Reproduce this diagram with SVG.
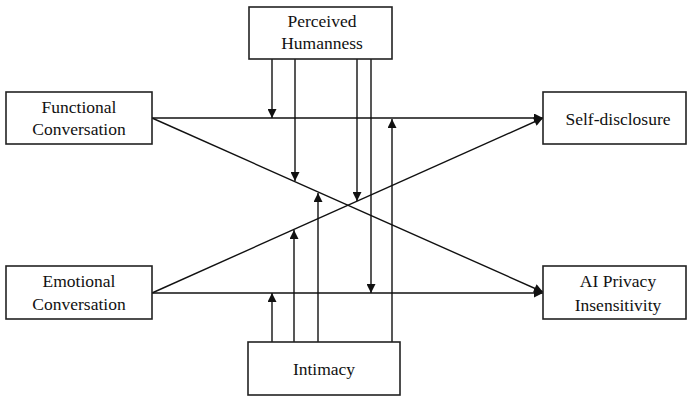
<svg xmlns="http://www.w3.org/2000/svg" width="687" height="397" viewBox="0 0 687 397">
<style>
.box{fill:#fff;stroke:#222;stroke-width:1.6}
.lbl{font-family:'Liberation Serif','Times New Roman',Times,'DejaVu Serif',serif;font-size:17.5px;fill:#111;text-anchor:middle}
.ln{stroke:#111;stroke-width:1.4;fill:none}
.ar{marker-end:url(#ah)}
</style>
<defs>
<marker id="ah" viewBox="0 0 10 10" refX="10" refY="5" markerWidth="10" markerHeight="9" markerUnits="userSpaceOnUse" orient="auto">
<path d="M0,0 L10,5 L0,10 z" fill="#111"/>
</marker>
</defs>
<rect width="687" height="397" fill="#fff"/>
<g id="connectors">
<line class="ln ar" x1="152" y1="118" x2="543" y2="118"/>
<line class="ln ar" x1="152" y1="118" x2="543" y2="292"/>
<line class="ln ar" x1="152" y1="293" x2="543" y2="293"/>
<line class="ln ar" x1="152" y1="293" x2="543" y2="118"/>
<line class="ln ar" x1="272" y1="59" x2="272" y2="118"/>
<line class="ln ar" x1="295" y1="59" x2="295" y2="181"/>
<line class="ln ar" x1="357" y1="59" x2="357" y2="201"/>
<line class="ln ar" x1="371" y1="59" x2="371" y2="293"/>
<line class="ln ar" x1="272" y1="342" x2="272" y2="293"/>
<line class="ln ar" x1="294" y1="342" x2="294" y2="230"/>
<line class="ln ar" x1="318" y1="342" x2="318" y2="193"/>
<line class="ln ar" x1="392" y1="342" x2="392" y2="119"/>
</g>
<g id="perceived-humanness">
<rect class="box" x="249" y="7" width="143" height="52"/>
<text class="lbl" x="322" y="27">Perceived</text>
<text class="lbl" x="322" y="49">Humanness</text>
</g>
<g id="functional-conversation">
<rect class="box" x="6" y="92" width="146" height="52"/>
<text class="lbl" x="79" y="113">Functional</text>
<text class="lbl" x="79" y="135">Conversation</text>
</g>
<g id="emotional-conversation">
<rect class="box" x="6" y="266" width="146" height="53"/>
<text class="lbl" x="79" y="287">Emotional</text>
<text class="lbl" x="79" y="310">Conversation</text>
</g>
<g id="self-disclosure">
<rect class="box" x="543" y="92" width="143" height="52"/>
<text class="lbl" x="618" y="125">Self-disclosure</text>
</g>
<g id="ai-privacy-insensitivity">
<rect class="box" x="543" y="266" width="143" height="53"/>
<text class="lbl" x="618" y="287">AI Privacy</text>
<text class="lbl" x="618" y="311">Insensitivity</text>
</g>
<g id="intimacy">
<rect class="box" x="248" y="342" width="152" height="53"/>
<text class="lbl" x="324" y="375">Intimacy</text>
</g>
</svg>
